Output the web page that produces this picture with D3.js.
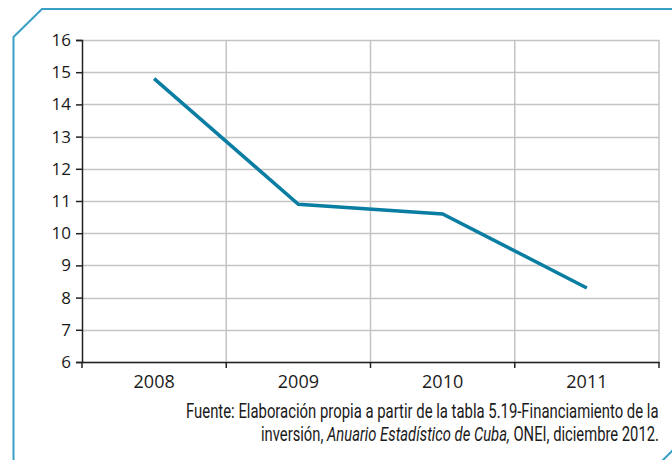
<!DOCTYPE html>
<html>
<head>
<meta charset="utf-8">
<script src="https://cdn.jsdelivr.net/npm/d3@7"></script>
<style>
    body { margin: 0; background: #fff; }
    svg { display: block; }
</style>
</head>
<body>
<svg class="chart-svg" width="672" height="460"></svg>
<script>
// Data
var years = ["2008", "2009", "2010", "2011"];
var values = [14.8, 10.9, 10.6, 8.3];
var yTicks = [6, 7, 8, 9, 10, 11, 12, 13, 14, 15, 16];

var svg = d3.select(".chart-svg");
var margin = {top: 40, right: 13, bottom: 98, left: 82};
var width = +svg.attr("width") - margin.left - margin.right;
var height = +svg.attr("height") - margin.top - margin.bottom;

// Frame with cut corners
svg.append("path")
    .attr("d", "M13.5,462 L13.5,37 L42,9 L675,9")
    .attr("fill", "none")
    .attr("stroke", "#3a9fc6")
    .attr("stroke-width", 2);
svg.append("path")
    .attr("d", "M674,449 L661,462")
    .attr("fill", "none")
    .attr("stroke", "#3a9fc6")
    .attr("stroke-width", 2);

var x = d3.scaleBand().domain(years).range([0, width]);
var y = d3.scaleLinear().domain([6, 16]).range([height, 0]);

var g = svg.append("g")
    .attr("transform", "translate(" + margin.left + "," + margin.top + ")");

// Horizontal grid
g.selectAll(".hgrid")
    .data(yTicks)
    .enter()
        .append("line")
        .attr("class", "hgrid")
        .attr("x1", 0)
        .attr("x2", width)
        .attr("y1", function(d) { return Math.round(y(d)) + 0.5; })
        .attr("y2", function(d) { return Math.round(y(d)) + 0.5; })
        .attr("stroke", "#c4c4c4")
        .attr("stroke-width", 1.5);

// Vertical grid at category boundaries
g.selectAll(".vgrid")
    .data(years)
    .enter()
        .append("line")
        .attr("class", "vgrid")
        .attr("x1", function(d) { return x(d) + x.bandwidth(); })
        .attr("x2", function(d) { return x(d) + x.bandwidth(); })
        .attr("y1", 0)
        .attr("y2", height)
        .attr("stroke", "#c4c4c4")
        .attr("stroke-width", 1.5);

// Y axis
var yAxis = g.append("g")
    .call(d3.axisLeft(y).tickValues(yTicks).tickSize(6).tickPadding(5));
yAxis.select(".domain").attr("stroke", "#222").attr("stroke-width", 1.5);
yAxis.selectAll(".tick line").attr("stroke", "#222").attr("stroke-width", 1.5);
yAxis.selectAll("text")
    .attr("fill", "#1a1a1a")
    .style("font-family", "'Open Sans', sans-serif")
    .style("font-size", "17px");

// X axis, ticks on category boundaries
var xAxis = g.append("g")
    .attr("transform", "translate(0," + height + ")")
    .call(d3.axisBottom(x).tickSize(0).tickPadding(13));
xAxis.select(".domain").attr("stroke", "#222").attr("stroke-width", 1.5);
xAxis.selectAll("text")
    .attr("fill", "#1a1a1a")
    .style("font-family", "'Open Sans', sans-serif")
    .style("font-size", "18px");
var bounds = [0].concat(years.map(function(d) { return x(d) + x.bandwidth(); }));
xAxis.selectAll(".bound")
    .data(bounds)
    .enter()
        .append("line")
        .attr("class", "bound")
        .attr("x1", function(d) { return d; })
        .attr("x2", function(d) { return d; })
        .attr("y1", 0)
        .attr("y2", 6)
        .attr("stroke", "#222")
        .attr("stroke-width", 1.5);

// Line
var line = d3.line()
    .x(function(d, i) { return x(years[i]) + x.bandwidth() / 2; })
    .y(function(d) { return y(d); });
g.append("path")
    .datum(values)
    .attr("d", line)
    .attr("fill", "none")
    .attr("stroke", "#0a7ea2")
    .attr("stroke-width", 3.5);

// Source note: condensed look by squeezing each line to the reference width
function noteLine(yPos, targetWidth, parts) {
    var wrap = svg.append("g");
    var t = wrap.append("text")
        .attr("x", 0)
        .attr("y", 0)
        .attr("fill", "#1a1a1a")
        .style("font-family", "Roboto, sans-serif")
        .style("font-size", "20px");
    parts.forEach(function(p) {
        t.append("tspan").style("font-style", p.italic ? "italic" : "normal").text(p.text);
    });
    var w = t.node().getComputedTextLength();
    var sx = targetWidth / w;
    wrap.attr("transform", "translate(" + (659 - targetWidth) + "," + yPos + ") scale(" + sx + ",1)");
}
noteLine(418, 473, [
    {text: "Fuente: Elaboración propia a partir de la tabla 5.19-Financiamiento de la"}
]);
noteLine(441, 398, [
    {text: "inversión, "},
    {text: "Anuario Estadístico de Cuba,", italic: true},
    {text: " ONEI, diciembre 2012."}
]);
</script>
</body>
</html>
